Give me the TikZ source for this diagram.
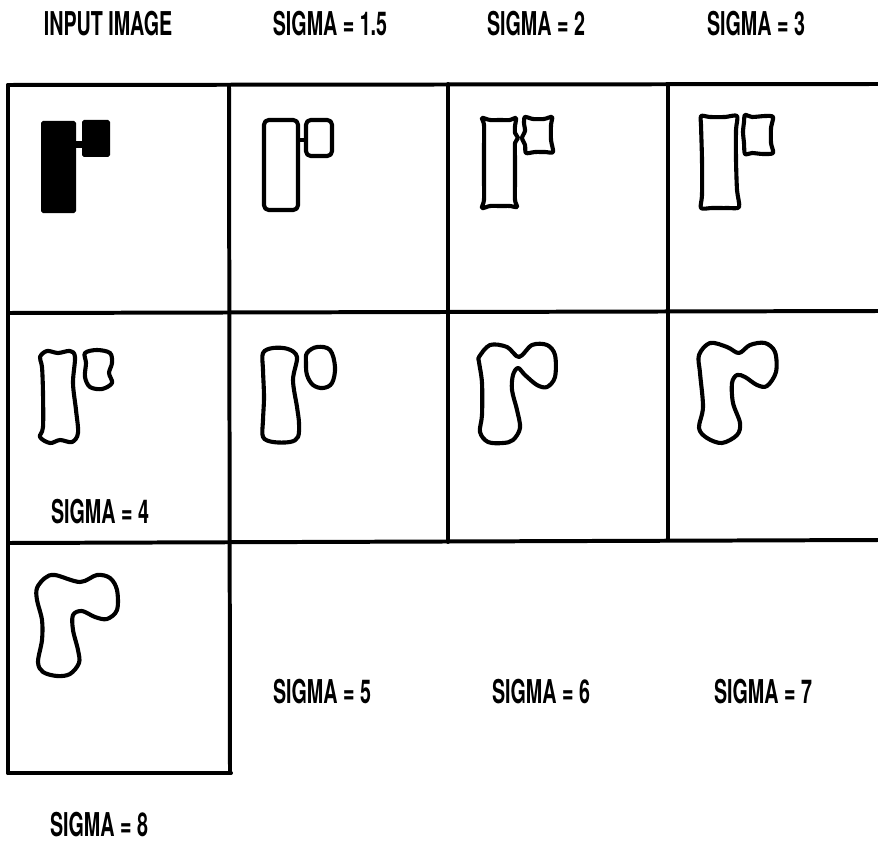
\documentclass[tikz,border=0pt]{standalone}
\usepackage{fontspec}
\setmainfont{TeX Gyre Heros}
\usepackage{graphicx}
\newcommand{\siglbl}[1]{\scalebox{0.6}[1]{\fontsize{28}{30}\selectfont\bfseries #1}}
\tikzset{
  gridline/.style={line width=3.4pt, line cap=round},
  blob/.style={line width=3.5pt, line join=round},
  lbl/.style={inner sep=0pt, anchor=center}
}

\begin{document}
\begin{tikzpicture}[x=0.03cm,y=-0.03cm]
  \useasboundingbox (0,0) rectangle (878,849);
  % frame of the cells
  \draw[gridline] (8,85) -- (878,84);
  \draw[gridline] (8,313) -- (878,311);
  \draw[gridline] (8,543) -- (878,540);
  \draw[gridline] (8,773) -- (231,773);
  \draw[gridline] (8,85) -- (8,773);
  \draw[gridline] (229,85) -- (230,773);
  \draw[gridline] (448,84) -- (448,542);
  \draw[gridline] (668,84) -- (668,540);
  % input image
  \fill[rounded corners=1.5] (41,121) rectangle (76,213);
  \fill[rounded corners=1.5] (82,120) rectangle (110,157);
  \fill (74,141) rectangle (84,148);
  % sigma 1.5
  \draw[blob,rounded corners=4] (264,120) rectangle (298,210);
  \draw[blob,rounded corners=4] (306,120) rectangle (332,156);
  \draw[blob] (298,140) -- (306,140);
  % sigma 2
  \draw[blob] plot[smooth cycle,tension=0.45] coordinates {(482,118) (490,120) (500,120) (510,120) (516,118) (515,126) (515,133) (518,138) (515,143) (515,160) (515,180) (515,200) (517,207) (510,206) (500,206) (490,206) (482,208) (484,200) (484,180) (484,150) (484,125)};
  \draw[blob] plot[smooth cycle,tension=0.45] coordinates {(525,117) (533,119) (544,119) (552,117) (551,125) (551,140) (553,152) (545,152) (535,152) (526,153) (525,145) (522,138) (525,131) (524,123)};
  % sigma 3
  \draw[blob] plot[smooth cycle,tension=0.45] coordinates {(701,116) (710,117) (725,117) (737,116) (736,130) (736,160) (737,190) (739,207) (728,208) (712,208) (701,208) (702,195) (702,160) (701,125)};
  \draw[blob] plot[smooth cycle,tension=0.45] coordinates {(745,115) (752,117) (765,116) (773,117) (771,128) (771,143) (773,153) (763,154) (752,153) (745,154) (744,143) (743,132) (744,122)};
  % sigma 4
  \draw[blob] plot[smooth cycle,tension=0.55] coordinates {(40,357) (47,351) (58,353) (70,351) (75,357) (73,383) (76,410) (78,433) (72,442) (60,440) (50,443) (40,437) (43,427) (43,393) (42,367)};
  \draw[blob] plot[smooth cycle,tension=0.55] coordinates {(85,353) (97,350) (110,353) (112,363) (109,373) (112,383) (102,389) (90,387) (85,377) (86,363)};
  % sigma 5
  \draw[blob] plot[smooth cycle,tension=0.55] coordinates {(263,353) (273,348) (288,349) (297,357) (293,380) (297,407) (299,423) (298,437) (290,442) (273,442) (263,437) (263,420) (264,397) (263,370)};
  \draw[blob] plot[smooth cycle,tension=0.6] coordinates {(307,353) (317,347) (330,350) (335,367) (332,383) (323,388) (313,385) (307,375) (306,363)};
  % sigma 6
  \draw[blob] plot[smooth cycle,tension=0.55] coordinates {(479,357) (490,345) (507,347) (519,357) (532,345) (547,345) (555,355) (555,377) (547,387) (537,385) (525,375) (518,368) (513,375) (512,390) (517,410) (520,428) (513,440) (503,443) (488,442) (480,432) (482,415) (482,383) (479,362)};
  % sigma 7
  \draw[blob] plot[smooth cycle,tension=0.55] coordinates {(699,355) (710,343) (727,347) (739,353) (750,345) (765,343) (775,352) (776,372) (767,386) (757,385) (745,377) (737,375) (732,383) (733,403) (740,423) (737,435) (722,443) (707,438) (699,428) (703,407) (700,373)};
  % sigma 8
  \draw[blob] plot[smooth cycle,tension=0.55] coordinates {(37,588) (45,578) (55,575) (80,582) (97,575) (110,578) (117,590) (117,610) (107,619) (95,617) (82,611) (73,615) (73,630) (78,650) (79,663) (70,674) (57,676) (43,672) (38,662) (42,640) (42,620) (37,600)};
  % labels
  \node[lbl] (input) at (108,24) {\siglbl{INPUT IMAGE}};
  \node[lbl] (s15) at (330,24) {\siglbl{SIGMA = 1.5}};
  \node[lbl] (s2) at (536,24) {\siglbl{SIGMA = 2}};
  \node[lbl] (s3) at (756,24) {\siglbl{SIGMA = 3}};
  \node[lbl] (s4) at (100,512) {\siglbl{SIGMA = 4}};
  \node[lbl] (s5) at (322,692) {\siglbl{SIGMA = 5}};
  \node[lbl] (s6) at (541,692) {\siglbl{SIGMA = 6}};
  \node[lbl] (s7) at (763,692) {\siglbl{SIGMA = 7}};
  \node[lbl] (s8) at (99,825) {\siglbl{SIGMA = 8}};
\end{tikzpicture}
\end{document}
